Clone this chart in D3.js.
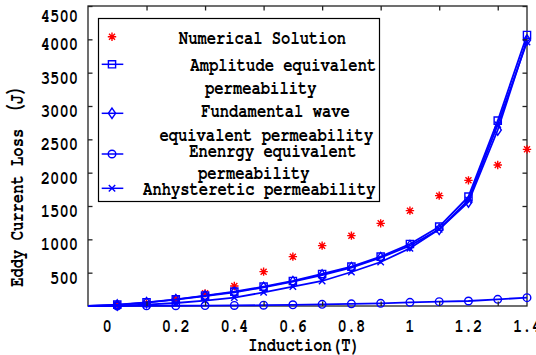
<!DOCTYPE html>
<html><head><meta charset="utf-8">
<script src="https://cdn.jsdelivr.net/npm/d3@7"></script>
<style>
body{margin:0;background:#fff}
svg{display:block}
text{font-family:"FreeMono","Liberation Mono","Noto Sans CJK SC",monospace;font-weight:bold;fill:#000;font-size:15.5px}
</style>
</head><body>
<svg id="c" width="536" height="355"></svg>
<script>
// ---- data ----
const induction    = [0, 0.1, 0.2, 0.3, 0.4, 0.5, 0.6, 0.7, 0.8, 0.9, 1.0, 1.1, 1.2, 1.3, 1.4];
const numerical    = [20, 40, 110, 190, 300, 515, 740, 905, 1055, 1240, 1430, 1655, 1885, 2115, 2350];
const amplitude    = [20, 55, 100, 155, 215, 290, 375, 480, 590, 740, 930, 1190, 1640, 2780, 4065];
const fundamental  = [15, 50, 95, 150, 205, 280, 365, 465, 575, 725, 905, 1150, 1560, 2640, 3990];
const energy       = [0, 2, 4, 6, 8, 12, 18, 25, 32, 40, 55, 65, 75, 100, 125];
const anhysteretic = [5, 20, 45, 80, 125, 205, 290, 375, 510, 660, 865, 1150, 1590, 2720, 3960];
const lineOrigin   = {x: -0.1, y: 0};            // blue lines start at the axis corner
const xDomain      = [-0.1, 1.4];
const yDomain      = [0, 4500];
const xTickValues  = [0.1, 0.3, 0.5, 0.7, 0.9, 1.1, 1.3];
const xLabelValues = [0, 0.2, 0.4, 0.6, 0.8, 1, 1.2, 1.4];
const yTickValues  = [500, 1000, 1500, 2000, 2500, 3000, 3500, 4000, 4500];
const legendLabels = [
  ["Numerical Solution"],
  ["Amplitude equivalent", "permeability"],
  ["Fundamental wave", "equivalent permeability"],
  ["Enenrgy equivalent", "permeability"],
  ["Anhysteretic permeability"]
];
const xTitle = "Induction(T)";
const yTitle = "Eddy Current Loss  （J）";

// ---- layout ----
const svg = d3.select("#c");
const L = 88, R = 527, T = 6, B = 306;
const x = d3.scaleLinear().domain(xDomain).range([L, R]);
const y = d3.scaleLinear().domain(yDomain).range([B, T]);
const BLUE = "#0000ff", RED = "#ff0000";

function txt(g, px, py, s, anchor, rot) {
  return g.append("text")
    .attr("transform", `translate(${px},${py})` + (rot ? ` rotate(${rot})` : "") + " scale(1,1.3)")
    .attr("text-anchor", anchor || "middle")
    .attr("dominant-baseline", "central")
    .text(s);
}

// marker shapes
const diamondType = {draw(ctx) { const w = 3.6, h = 5.2; ctx.moveTo(0,-h); ctx.lineTo(w,0); ctx.lineTo(0,h); ctx.lineTo(-w,0); ctx.closePath(); }};
const squareType  = {draw(ctx) { const s = 3.6; ctx.moveTo(-s,-s); ctx.lineTo(s,-s); ctx.lineTo(s,s); ctx.lineTo(-s,s); ctx.closePath(); }};
const circleType  = {draw(ctx) { const r = 3.8; ctx.moveTo(r,0); ctx.arc(0,0,r,0,2*Math.PI); }};
const timesType   = {draw(ctx) { const s = 3.2; ctx.moveTo(-s,-s); ctx.lineTo(s,s); ctx.moveTo(-s,s); ctx.lineTo(s,-s); }};
const asteriskType= {draw(ctx) { const s = 4.2, d = 3.0; ctx.moveTo(0,-s); ctx.lineTo(0,s); ctx.moveTo(-s,0); ctx.lineTo(s,0); ctx.moveTo(-d,-d); ctx.lineTo(d,d); ctx.moveTo(-d,d); ctx.lineTo(d,-d); }};

const series = [
  {vals: numerical,    sym: asteriskType, color: RED,  line: false},
  {vals: amplitude,    sym: squareType,   color: BLUE, line: true},
  {vals: fundamental,  sym: diamondType,  color: BLUE, line: true},
  {vals: energy,       sym: circleType,   color: BLUE, line: true},
  {vals: anhysteretic, sym: timesType,    color: BLUE, line: true}
];

// axes frame
svg.append("rect").attr("x", L).attr("y", T).attr("width", R - L).attr("height", B - T)
  .attr("fill", "#fff").attr("stroke", "#222").attr("stroke-width", 1.3);

// data
const lineGen = d3.line().x(d => x(d[0])).y(d => y(d[1]));
const plot = svg.append("g");
series.forEach(s => {
  const pts = induction.map((v, i) => [v, s.vals[i]]);
  if (s.line) {
    plot.append("path").attr("d", lineGen([[lineOrigin.x, lineOrigin.y]].concat(pts)))
      .attr("fill", "none").attr("stroke", s.color).attr("stroke-width", 1.8);
  }
  plot.selectAll(null).data(pts).enter().append("path")
    .attr("transform", d => `translate(${x(d[0])},${y(d[1])})`)
    .attr("d", d3.symbol().type(s.sym)())
    .attr("fill", "none").attr("stroke", s.color).attr("stroke-width", 1.4);
});

// ticks (inward), via d3 axes
const tk = 4.5;
const styleTicks = g => { g.select(".domain").remove(); g.selectAll("line").attr("stroke", "#222").attr("stroke-width", 1.3); };
svg.append("g").attr("transform", `translate(${L},0)`)
  .call(d3.axisRight(y).tickValues(yTickValues).tickSize(tk).tickFormat("")).call(styleTicks);
svg.append("g").attr("transform", `translate(${R},0)`)
  .call(d3.axisLeft(y).tickValues(yTickValues).tickSize(tk).tickFormat("")).call(styleTicks);
svg.append("g").attr("transform", `translate(0,${T})`)
  .call(d3.axisBottom(x).tickValues(xTickValues).tickSize(tk).tickFormat("")).call(styleTicks);
svg.append("g").attr("transform", `translate(0,${B})`)
  .call(d3.axisTop(x).tickValues(xTickValues).tickSize(tk).tickFormat("")).call(styleTicks);

// tick labels
const lab = svg.append("g");
yTickValues.forEach(v => txt(lab, L - 10, Math.max(y(v) + 5.5, 16), String(v), "end"));
xLabelValues.forEach(v => txt(lab, x(v) + (v === 0 ? -10 : 0), 326, d3.format("")(v), "middle"));

// axis titles
txt(svg, 304, 345, xTitle, "middle");
txt(svg, 17, 183, yTitle, "middle", -90);

// legend
const lg = svg.append("g");
lg.append("rect").attr("x", 98.5).attr("y", 18.5).attr("width", 281).attr("height", 183)
  .attr("fill", "#fff").attr("stroke", "#000").attr("stroke-width", 1.2);
const markerY = [36.7, 64.3, 113.3, 154, 188.3];
const textPos = [
  [[262.5, 38]],
  [[283.3, 65], [260.8, 88]],
  [[275.5, 111.5], [266.3, 135]],
  [[272.8, 151.5], [253.8, 173.5]],
  [[259.3, 189]]
];
series.forEach((s, i) => {
  if (s.line) lg.append("line").attr("x1", 101.7).attr("x2", 123.3).attr("y1", markerY[i]).attr("y2", markerY[i])
    .attr("stroke", s.color).attr("stroke-width", 1.5);
  lg.append("path").attr("transform", `translate(112,${markerY[i]})`).attr("d", d3.symbol().type(s.sym)())
    .attr("fill", "none").attr("stroke", s.color).attr("stroke-width", 1.4);
  legendLabels[i].forEach((t, j) => txt(lg, textPos[i][j][0], textPos[i][j][1], t, "middle"));
});
</script>
</body></html>
